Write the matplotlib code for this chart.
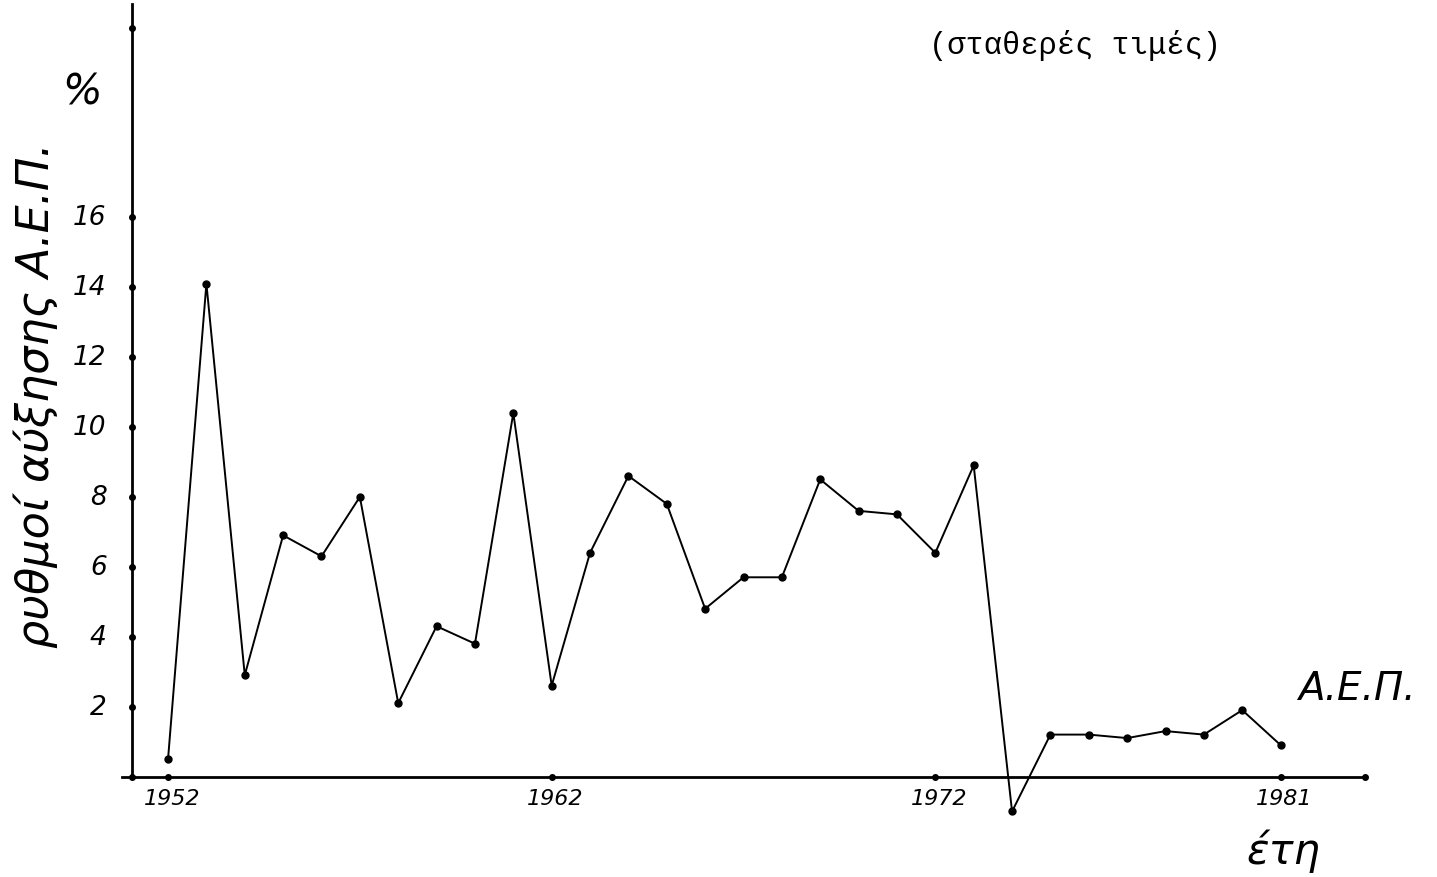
import matplotlib
matplotlib.use("Agg")
import matplotlib.pyplot as plt

years = list(range(1952, 1982))
growth = [0.5, 14.1, 2.9, 6.9, 6.3, 8.0, 2.1, 4.3, 3.8, 10.4,
          2.6, 6.4, 8.6, 7.8, 4.8, 5.7, 5.7, 8.5, 7.6, 7.5,
          6.4, 8.9, -1.0, 1.2, 1.2, 1.1, 1.3, 1.2, 1.9, 0.9]
ytick_vals = [2, 4, 6, 8, 10, 12, 14, 16]
xtick_vals = [1952, 1962, 1972, 1981]

fig = plt.figure(figsize=(14.37, 8.78), dpi=100)
ax = fig.add_axes([0.0849, 0.0547, 0.865, 0.9396])
ax.set_xlim(1950.8, 1983.2)
ax.set_ylim(-1.5, 22.1)

ax.plot(years, growth, color="black", lw=1.4, marker="o", ms=5, clip_on=False)

for s in ["top", "right"]:
    ax.spines[s].set_visible(False)
ax.spines["left"].set_position(("data", 1951.06))
ax.spines["bottom"].set_position(("data", 0))
ax.spines["left"].set_bounds(0, 22.1)
ax.spines["left"].set_linewidth(2)
ax.spines["bottom"].set_linewidth(2)

hand = dict(family="DejaVu Sans", style="italic", color="black")
ax.set_xticks([])
ax.set_yticks([])
for v in ytick_vals:
    ax.text(1950.4, v, str(v), ha="right", va="center", fontsize=19, **hand)
ax.plot([1951.06] * (len(ytick_vals) + 2), [0] + ytick_vals + [21.4], "o",
        color="black", ms=4, clip_on=False)
for v in xtick_vals:
    ax.text(v + 0.1, -0.6, str(v), ha="center", va="center", fontsize=16, **hand)
ax.plot(xtick_vals + [1983.2], [0] * (len(xtick_vals) + 1), "o",
        color="black", ms=4, clip_on=False)

fig.text(0.025, 0.55, "ρυθμοί αύξησης Α.Ε.Π.", rotation=90, ha="center",
         va="center", fontsize=32, **hand)
fig.text(0.057, 0.895, "%", ha="center", va="center", fontsize=30, **hand)
fig.text(0.748, 0.948, "(σταθερές τιμές)", ha="center", va="center",
         fontsize=22, family="Liberation Mono", color="black")
fig.text(0.944, 0.215, "Α.Ε.Π.", ha="center", va="center", fontsize=28, **hand)
fig.text(0.893, 0.03, "έτη", ha="center", va="center", fontsize=30, **hand)

fig.savefig("out.png", dpi=100, facecolor="white")
